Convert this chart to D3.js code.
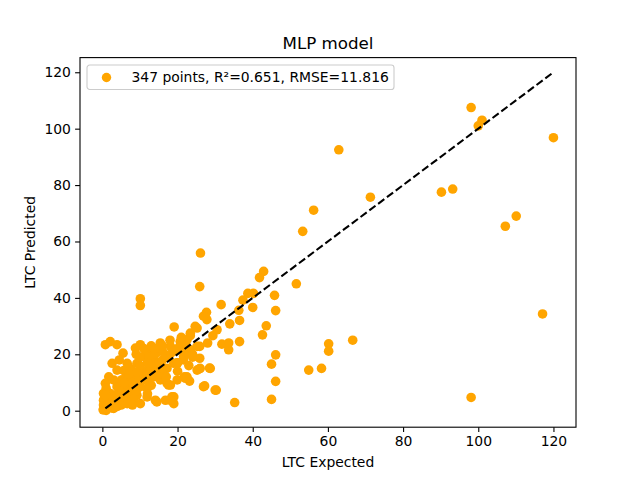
<!DOCTYPE html>
<html>
<head>
<meta charset="utf-8">
<script src="https://cdn.jsdelivr.net/npm/d3@7"></script>
<style>
  body { margin: 0; background: #fff; }
  svg { font-family: "DejaVu Sans", sans-serif; }
</style>
</head>
<body>
<svg id="chart" width="640" height="480"></svg>
<script>
// values (LTC expected vs LTC predicted)
const expected = [
  120, 98.1, 100, 101, 62.9, 71.3, 56.2, 53.3, 90.2, 93.2, 107.2, 110.1, 51.6, 117.1, 60.2, 60.2, 66.6, 54.9, 58.3, 98.1,
  26.1, 25.9, 42.9, 41.8, 45.8, 46.1, 40, 38.7, 40.2, 37.4, 31.6, 36.3, 36.5, 33.9, 43.6, 42.6, 36.5, 33.6, 33.6, 31.8,
  27.7, 27.8, 26.9, 29.4, 30.5, 25.9, 46.1, 45, 46.1, 45, 35.2, 30.3, 27.2, 28.5, 25.9, 25.9, 23.2, 21.8, 19.1, 23.4,
  25.2, 19, 19, 18.1, 20.7, 22.5, 23.4, 21.6,
  10.1, 10.1, 2.1, 0.8, 3.9, 5.5, 8.8, 10.1, 15.4, 12.3, 18.1, 23.4, 24.7, 2.6, 5.7, 7.4, 3, 4.8, 8.3, 11,
  12.8, 14.5, 17.2, 19, 21.6, 22.5, 17.6, 11.9, 14.1, 16.8, 18.5, 10.1, 6.6, 1.2, 0.3, 0.3, 2.1, 3.9, 5.7, 7.4,
  9.2, 3, 4.8, 8.3, 11.9, 10.1, 11.9, 13.6, 15.4, 13.6, 11, 9.2, 6.6, 3.9, 1.7, 0.8, 17.2, 19.9, 25.2, 22.1,
  25.2, 11.9, 11,
  22.1, 26.9, 30, 28.7, 26, 14.5, 18.1,
  0.5, 1, 0.3, 2, 1.5, 0.5, 2.5, 4, 5, 6, 7, 8, 9, 10, 12, 13, 14, 15, 16, 17,
  18, 19, 20, 21, 22, 6, 8, 10, 12, 14, 16, 9, 11, 13, 15, 0.2, 1, 2, 3, 4,
  5, 6, 7, 8, 9, 1, 2.5, 4.5, 6.5, 7.5, 12.5, 16, 20, 24, 28, 0.6, 0.9, 1.4, 3.5, 5.2,
  6, 8, 7, 9, 12, 13, 15, 16, 17, 20, 20, 23, 24, 10, 12, 14, 16, 18, 21
];
const predicted = [
  96.8, 107.5, 101, 103, 92.5, 75.7, 71.1, 63.6, 77.5, 78.6, 65.4, 69, 45, 34.3, 23.7, 21.1, 25, 14.4, 15, 4.7,
  55.9, 44, 49.4, 47.2, 40.9, 35.5, 36.6, 41.6, 41.6, 39.2, 37.6, 35.6, 32, 30.8, 30.1, 26.9, 24.5, 21.6, 24, 23.6,
  34.9, 32.3, 33.5, 26.6, 28.7, 22.8, 19.8, 16.5, 10.4, 4, 2.9, 7.3, 8.8, 15.1, 14.9, 18.6, 10.5, 12, 29.7, 26.6,
  29.3, 4.9, 2.5, 9.1, 24.5, 25.1, 21.6, 19.2,
  39.7, 37.3, 24.5, 23.4, 23.4, 20.4, 22.2, 23.4, 24, 21, 22.8, 27.5, 29.9, 16.8, 14.2, 15, 10.9, 10.3, 12, 10.9,
  16.8, 14.4, 15, 16.8, 18, 12, 9.1, 7.9, 3.7, 3.7, 4.9, 2.5, 2.5, 1.3, 3.7, 6.1, 6.1, 8.5, 7.3, 6.1,
  5.5, 3.7, 3.1, 4.3, 4.9, 8.5, 10.9, 12, 10.9, 18, 19.2, 16.8, 16.8, 14.4, 12, 9.7, 9.7, 10.9, 22.8, 21,
  14.4, 14.4, 13.3,
  11.5, 8.5, 7.3, 15, 15, 3.1, 3.7,
  0.5, 0.1, 2, 2, 4.5, 1.5, 1, 1.5, 5, 4, 9, 8, 10, 12, 13, 15, 16, 17, 18, 19,
  20, 21, 22, 23, 24, 11, 14, 16, 19, 20, 21, 20, 22, 23, 21, 0.3, 5, 1.2, 0.8, 6,
  2, 9.5, 3, 2, 13.5, 8, 3.5, 18, 12, 7, 9, 13, 17, 20, 24, 3, 5.5, 1.8, 1.6, 11,
  10, 10, 13, 7, 6, 9, 13, 15, 12, 14, 17, 16, 19, 19, 17, 22, 23, 25, 26
];
const xTicks = [0, 20, 40, 60, 80, 100, 120];
const yTicks = [0, 20, 40, 60, 80, 100, 120];
const diagonal = [0.8, 119.6];
const legendText = "347 points, R\u00b2=0.651, RMSE=11.816";

const W = 640, H = 480;
const m = { left: 80, right: 576, top: 57.6, bottom: 427.2 };
const svg = d3.select("#chart");

const x = d3.scaleLinear().domain([-5.95, 126]).range([m.left, m.right]);
const y = d3.scaleLinear().domain([-5.85, 125.2]).range([m.bottom, m.top]);

const plot = svg.append("g");
plot.append("defs").append("clipPath").attr("id", "clip")
  .append("rect").attr("x", m.left).attr("y", m.top)
  .attr("width", m.right - m.left).attr("height", m.bottom - m.top);

// points
plot.append("g").attr("clip-path", "url(#clip)")
  .selectAll("circle")
  .data(expected.map((e, i) => [e, predicted[i]]))
  .join("circle")
  .attr("cx", d => x(d[0]))
  .attr("cy", d => y(d[1]))
  .attr("r", 4.8)
  .attr("fill", "#ffa500");

// ideal line
plot.append("line")
  .attr("x1", x(diagonal[0])).attr("y1", y(diagonal[0]))
  .attr("x2", x(diagonal[1])).attr("y2", y(diagonal[1]))
  .attr("stroke", "#000")
  .attr("stroke-width", 2.08)
  .attr("stroke-dasharray", "7.7,3.3");

// axes
const xAxis = svg.append("g")
  .attr("transform", `translate(0,${m.bottom})`)
  .call(d3.axisBottom(x).tickValues(xTicks).tickSize(4.9).tickPadding(4.2));
const yAxis = svg.append("g")
  .attr("transform", `translate(${m.left},0)`)
  .call(d3.axisLeft(y).tickValues(yTicks).tickSize(4.9).tickPadding(4.2));
[xAxis, yAxis].forEach(a => {
  a.select(".domain").remove();
  a.selectAll("line").attr("stroke", "#000").attr("stroke-width", 1.1);
  a.selectAll("text").attr("font-size", 13.9).attr("fill", "#000")
    .attr("font-family", "DejaVu Sans, sans-serif");
});

// frame
svg.append("rect")
  .attr("x", m.left).attr("y", m.top)
  .attr("width", m.right - m.left).attr("height", m.bottom - m.top)
  .attr("fill", "none").attr("stroke", "#000").attr("stroke-width", 1.1);

// labels
svg.append("text")
  .attr("x", (m.left + m.right) / 2).attr("y", 49)
  .attr("text-anchor", "middle").attr("font-size", 16.7)
  .text("MLP model");
svg.append("text")
  .attr("x", (m.left + m.right) / 2).attr("y", 467)
  .attr("text-anchor", "middle").attr("font-size", 13.9)
  .text("LTC Expected");
svg.append("text")
  .attr("transform", `translate(35,${(m.top + m.bottom) / 2}) rotate(-90)`)
  .attr("text-anchor", "middle").attr("font-size", 13.9)
  .text("LTC Predicted");

// legend
const lg = svg.append("g").attr("transform", "translate(87,65)");
lg.append("rect")
  .attr("width", 307).attr("height", 24.5).attr("rx", 2.8)
  .attr("fill", "#fff").attr("fill-opacity", 0.8)
  .attr("stroke", "#cccccc").attr("stroke-width", 1.1);
lg.append("circle").attr("cx", 19.5).attr("cy", 12.5).attr("r", 4.7).attr("fill", "#ffa500");
lg.append("text").attr("x", 44.5).attr("y", 17.2).attr("font-size", 13.9).text(legendText);
</script>
</body>
</html>
